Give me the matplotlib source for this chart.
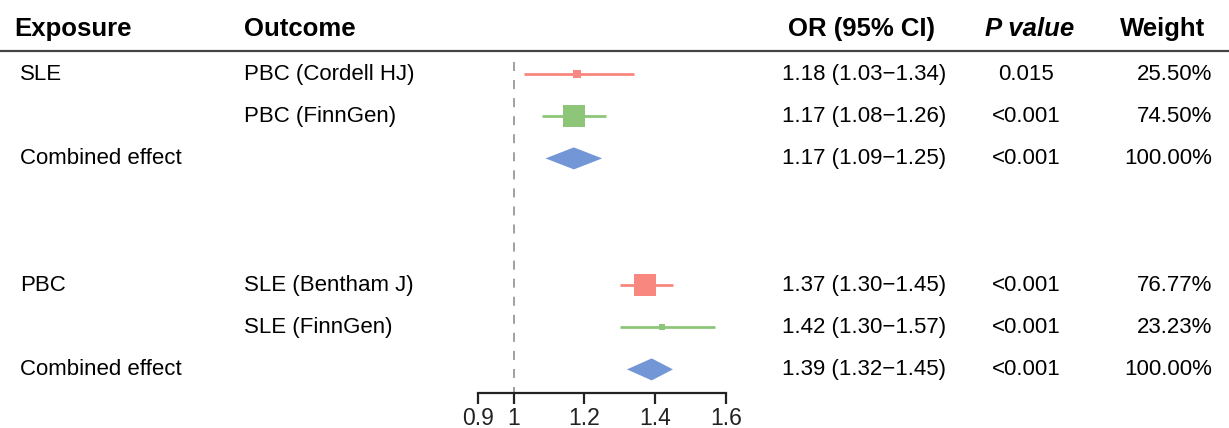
#
# forest plot: SLE <-> PBC mendelian randomization
#

import numpy as np
from matplotlib import pyplot as plt

plt.rcParams['font.family'] = ['Liberation Sans', 'DejaVu Sans']

# data
exposure = ["SLE", "", "Combined effect", "", "", "PBC", "", "Combined effect"]
outcome = ["PBC (Cordell HJ)", "PBC (FinnGen)", "", "", "",
           "SLE (Bentham J)", "SLE (FinnGen)", ""]
or_val = [1.18, 1.17, 1.17, None, None, 1.37, 1.42, 1.39]
ci_low = [1.03, 1.08, 1.09, None, None, 1.30, 1.30, 1.32]
ci_high = [1.34, 1.26, 1.25, None, None, 1.45, 1.57, 1.45]
p_text = ["0.015", "<0.001", "<0.001", "", "", "<0.001", "<0.001", "<0.001"]
weight = [25.50, 74.50, 100.00, None, None, 76.77, 23.23, 100.00]
is_combined = [False, False, True, False, False, False, False, True]
or_ticks = [0.9, 1, 1.2, 1.4, 1.6]
or_tick_labels = ["0.9", "1", "1.2", "1.4", "1.6"]

red = "#F8877F"
green = "#8DC679"
blue = "#7396D6"
point_colors = [red, green, blue, None, None, red, green, blue]

W, H = 1229, 428
fig = plt.figure(figsize=(W / 100, H / 100), dpi=100)

# row layout: row i (1-based) sits at pixel y = y0 + dy*(i-1)
y0, dy = 74.0, 42.2
def px_to_row(py):
    return (py - y0) / dy + 1

# text axes over the whole figure (x in pixels, y in rows)
ax = fig.add_axes([0, 0, 1, 1])
ax.set_xlim(0, W)
ax.set_ylim(px_to_row(H), px_to_row(0))
ax.axis("off")

fs_head = 18.5
fs_body = 16

# header
hy = px_to_row(29)
ax.text(14, hy, "Exposure", fontsize=fs_head, fontweight="bold", va="center")
ax.text(244, hy, "Outcome", fontsize=fs_head, fontweight="bold", va="center")
ax.text(862, hy, "OR (95% CI)", fontsize=fs_head, fontweight="bold", va="center", ha="center")
ax.text(1030, hy, "P value", fontsize=fs_head, fontweight="bold", style="italic",
        va="center", ha="center")
ax.text(1163, hy, "Weight", fontsize=fs_head, fontweight="bold", va="center", ha="center")
ax.plot([0, W], [px_to_row(51)] * 2, color="#444444", lw=1.6)

rows = np.arange(1, len(exposure) + 1)
for i, r in enumerate(rows):
    ax.text(20, r, exposure[i], fontsize=fs_body, va="center")
    ax.text(244, r, outcome[i], fontsize=fs_body, va="center")
    if or_val[i] is None:
        continue
    s = "%.2f (%.2f\u2212%.2f)" % (or_val[i], ci_low[i], ci_high[i])
    ax.text(864, r, s, fontsize=fs_body, va="center", ha="center")
    ax.text(1026, r, p_text[i], fontsize=fs_body, va="center", ha="center")
    ax.text(1212, r, "%.2f%%" % weight[i], fontsize=fs_body, va="center", ha="right")

# forest axes: 0.9 at px 478.3, 1.6 at px 726
x_left, x_right = 478.3, 726.0
axis_py = 393.0
fa = fig.add_axes([x_left / W, 1 - axis_py / H, (x_right - x_left) / W, axis_py / H])
fa.set_xlim(0.9, 1.6)
fa.set_ylim(px_to_row(axis_py), px_to_row(0))
fa.patch.set_alpha(0)
for side in ["left", "right", "top"]:
    fa.spines[side].set_visible(False)
fa.set_yticks([])

# R-style bottom axis: line with ticks hanging below
fa.spines["bottom"].set_linewidth(1.6)
fa.spines["bottom"].set_color("#222222")
fa.spines["bottom"].set_bounds(0.9, 1.6)
fa.set_xticks(or_ticks)
fa.set_xticklabels(or_tick_labels, fontsize=16.5)
fa.tick_params(axis="x", direction="out", length=8, width=1.6, pad=2, colors="#222222")

# reference line at OR = 1
fa.plot([1, 1], [px_to_row(62), px_to_row(axis_py)], color="#999999",
        lw=1.3, ls=(0, (5, 5)), clip_on=False)

px_per_weight = 29.0 / 100  # square side in px per percent weight
for i, r in enumerate(rows):
    if or_val[i] is None:
        continue
    c = point_colors[i]
    if is_combined[i]:
        h = 11.0 / dy
        xs = [ci_low[i], or_val[i], ci_high[i], or_val[i]]
        ys = [r, r - h, r, r + h]
        fa.fill(xs, ys, color=c, lw=0)
    else:
        fa.plot([ci_low[i], ci_high[i]], [r, r], color=c, lw=2.0, solid_capstyle="butt")
        side = weight[i] * px_per_weight * 0.72
        fa.plot(or_val[i], r, marker="s", ms=side, color=c, mec=c, mew=0, ls="none")

fig.savefig("out.png", dpi=100)
